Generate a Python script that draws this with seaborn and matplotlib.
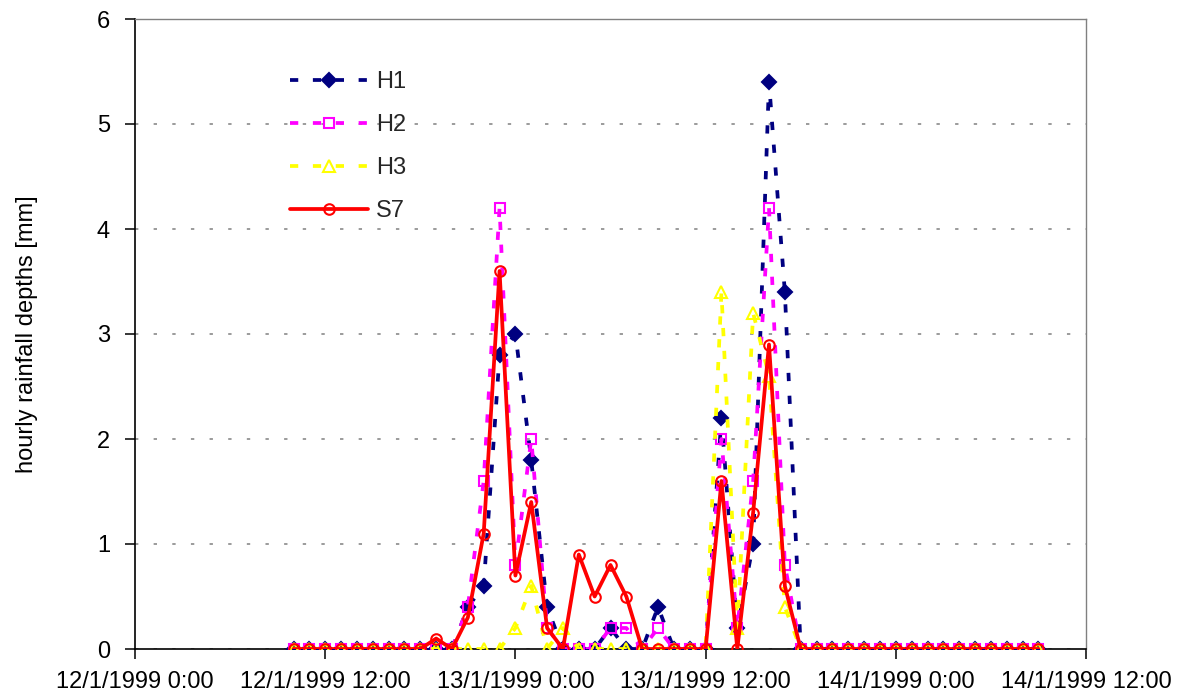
import matplotlib
matplotlib.use("Agg")
import matplotlib.pyplot as plt
import matplotlib.dates as mdates
from matplotlib.ticker import FuncFormatter
import pandas as pd
import seaborn as sns

# Hourly rainfall depths [mm], one value per hour starting 12/1/1999 10:00
start_time = "1999-01-12 10:00"
n_hours = 48

h1 = [0, 0, 0, 0, 0, 0, 0, 0, 0, 0, 0,
      0.4, 0.6, 2.8, 3.0, 1.8, 0.4, 0, 0, 0, 0.2, 0, 0, 0.4, 0, 0, 0,
      2.2, 0.2, 1.0, 5.4, 3.4,
      0, 0, 0, 0, 0, 0, 0, 0, 0, 0, 0, 0, 0, 0, 0, 0]
h2 = [0, 0, 0, 0, 0, 0, 0, 0, 0, 0, 0,
      0.4, 1.6, 4.2, 0.8, 2.0, 0.2, 0, 0, 0, 0.2, 0.2, 0, 0.2, 0, 0, 0,
      2.0, 0.2, 1.6, 4.2, 0.8,
      0, 0, 0, 0, 0, 0, 0, 0, 0, 0, 0, 0, 0, 0, 0, 0]
h3 = [0, 0, 0, 0, 0, 0, 0, 0, 0, 0, 0,
      0, 0, 0, 0.2, 0.6, 0, 0.2, 0, 0, 0, 0, 0, 0, 0, 0, 0,
      3.4, 0.2, 3.2, 2.6, 0.4,
      0, 0, 0, 0, 0, 0, 0, 0, 0, 0, 0, 0, 0, 0, 0, 0]
s7 = [0, 0, 0, 0, 0, 0, 0, 0, 0, 0.1, 0,
      0.3, 1.1, 3.6, 0.7, 1.4, 0.2, 0, 0.9, 0.5, 0.8, 0.5, 0, 0, 0, 0, 0,
      1.6, 0, 1.3, 2.9, 0.6,
      0, 0, 0, 0, 0, 0, 0, 0, 0, 0, 0, 0, 0, 0, 0, 0]

series_names = ["H1", "H2", "H3", "S7"]
axis_start = "1999-01-12 00:00"
axis_end = "1999-01-14 12:00"
y_ticks = [0, 1, 2, 3, 4, 5, 6]

times = pd.date_range(start_time, periods=n_hours, freq="h")
data = {"H1": h1, "H2": h2, "H3": h3, "S7": s7}

dash = (0, (2.2, 3.9))
styles = {
    "H1": dict(color="#000080", marker="D", markersize=7.2,
               markerfacecolor="#000080", markeredgecolor="#000080", linestyle=dash),
    "H2": dict(color="#FF00FF", marker="s", markersize=7.6,
               markerfacecolor="none", markeredgecolor="#FF00FF", linestyle=dash),
    "H3": dict(color="#FFFF00", marker="^", markersize=9.0,
               markerfacecolor="none", markeredgecolor="#FFFF00", linestyle=dash),
    "S7": dict(color="#FF0000", marker="o", markersize=7.6,
               markerfacecolor="none", markeredgecolor="#FF0000", linestyle="-"),
}

sns.set_theme(style="white")
plt.rcParams["font.family"] = ["Liberation Sans", "DejaVu Sans"]

fig = plt.figure(figsize=(11.89, 7.0), dpi=100)
fig.patch.set_facecolor("white")
ax = fig.add_axes([135 / 1189, 51 / 700, 951 / 1189, 630 / 700])
ax.set_facecolor("white")

for i, name in enumerate(series_names):
    sns.lineplot(x=times, y=data[name], ax=ax, label=name, linewidth=2.7,
                 markeredgewidth=1.5, zorder=3 + i, **styles[name])

ax.set_xlim(pd.Timestamp(axis_start), pd.Timestamp(axis_end))
ax.set_ylim(0, 6)
ax.set_yticks(y_ticks)
ax.set_xticks(pd.date_range(axis_start, axis_end, freq="12h"))


def fmt_date(v, pos):
    d = mdates.num2date(v)
    return f"{d.day}/{d.month}/{d.year} {d.hour}:{d.minute:02d}"


ax.xaxis.set_major_formatter(FuncFormatter(fmt_date))

ax.yaxis.grid(True, color="#808080", linestyle=(0, (2.2, 10)), linewidth=1.1)
ax.xaxis.grid(False)
ax.set_axisbelow(True)

for side in ("left", "bottom"):
    ax.spines[side].set_color("black")
    ax.spines[side].set_linewidth(1.2)
for side in ("top", "right"):
    ax.spines[side].set_color("#808080")
    ax.spines[side].set_linewidth(1.0)

ax.tick_params(axis="both", which="major", bottom=True, left=True, top=False, right=False,
               direction="out", length=7, width=1.1, color="black",
               labelsize=17, labelcolor="black")
ax.tick_params(axis="y", pad=11)
ax.tick_params(axis="x", pad=9)

ax.set_xlabel("")
ax.set_ylabel("hourly rainfall depths [mm]", fontsize=17, color="black")
ax.yaxis.set_label_coords(-0.102, 0.5)

ax.legend(loc="upper left", bbox_to_anchor=(0.163, 0.917), frameon=False,
          fontsize=17, handlelength=3.3, handletextpad=0.35, labelspacing=0.89,
          borderaxespad=0, borderpad=0, numpoints=1)

fig.savefig("out.png", dpi=100, facecolor="white")
